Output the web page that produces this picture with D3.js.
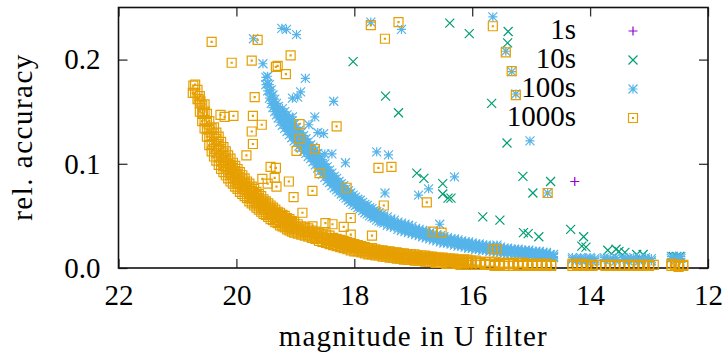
<!DOCTYPE html>
<html>
<head>
<meta charset="utf-8">
<script src="https://cdn.jsdelivr.net/npm/d3@7.9.0/dist/d3.min.js"></script>
<style>
  html, body { margin: 0; padding: 0; background: #fff; }
  svg { display: block; }
</style>
</head>
<body>
<svg width="725" height="354"></svg>
<script>
// series labels and colours (gnuplot default palette)
const seriesNames = ["1s", "10s", "100s", "1000s"];
const seriesColors = ["#9400d3", "#009e73", "#56b4e9", "#e69f00"];
const seriesSymbols = ["plus", "cross", "star", "box"];

const xTicks = [22, 20, 18, 16, 14, 12];
const yTicks = [0.0, 0.1, 0.2];

// [magnitude, rel. accuracy]
const pts1s = [[14.26, .083]];

const pts10s = [
  [16.38, .235], [16.05, .225], [18.02, .198], [17.47, .165], [17.25, .149],
  [15.67, .158], [15.39, .227], [15.40, .216], [15.41, .120], [16.94, .091],
  [16.82, .086], [16.50, .081], [16.50, .071], [16.41, .067], [16.36, .067],
  [15.14, .088], [14.97, .072], [14.67, .083], [15.82, .049], [15.53, .046],
  [15.13, .034], [15.05, .033], [14.87, .030], [14.33, .037], [14.11, .030],
  [14.14, .021], [14.07, .020], [13.70, .017], [13.56, .018], [13.51, .016],
  [13.41, .015], [13.21, .013], [13.10, .013], [12.59, .011], [12.53, .011],
  [12.48, .011]
];

// scattered 100s points
const pts100s = [
  [19.71, .220], [19.23, .230], [19.15, .229], [18.98, .224], [19.55, .196],
  [18.83, .182], [18.91, .169], [18.96, .164], [19.05, .163], [18.35, .160],
  [18.67, .145], [19.05, .145], [18.77, .1375], [17.72, .236], [17.20, .229],
  [18.62, .130], [18.52, .129], [18.50, .1095], [18.38, .1095], [18.15, .101],
  [17.62, .1115], [17.42, .1085], [17.48, .072], [16.91, .070], [16.74, .076],
  [16.30, .0875], [16.55, .042], [15.65, .241], [15.43, .208], [15.33, .1885],
  [15.26, .167], [15.02, .122], [14.72, .072], [15.58, .022], [18.93, .124]
];

// dense 100s band: [magnitude, accuracies...]
const band100s = [
  [19.50, .176, .183], [19.47, .170, .177, .184], [19.44, .163, .170, .176],
  [19.41, .158, .165, .171], [19.38, .154, .160, .166], [19.35, .150, .156, .162],
  [19.32, .147, .152, .158], [19.29, .144, .149, .155], [19.26, .140, .146, .151],
  [19.22, .137, .142, .148, .153], [19.18, .134, .139, .145, .150], [19.14, .131, .136, .142, .147],
  [19.10, .128, .133, .139, .144], [19.06, .125, .130, .136, .141], [19.02, .122, .127, .133, .138],
  [18.98, .120, .125, .130, .135], [18.94, .117, .122, .127, .132], [18.90, .115, .120, .125, .130],
  [18.86, .112, .117, .122, .127], [18.82, .110, .115, .120, .124], [18.78, .107, .112, .117, .121],
  [18.74, .105, .109, .114, .118], [18.70, .102, .107, .111, .116], [18.66, .099, .104, .108, .113],
  [18.62, .096, .101, .105, .110], [18.58, .093, .098, .102, .107], [18.54, .090, .095, .099, .104],
  [18.50, .087, .092, .096, .100], [18.46, .084, .089, .093, .097], [18.42, .082, .086, .090, .094],
  [18.38, .079, .083, .087, .091], [18.34, .077, .081, .085, .088], [18.30, .075, .078, .082, .086],
  [18.26, .073, .076, .080, .083], [18.22, .071, .074, .078, .081], [18.18, .069, .072, .075, .079],
  [18.14, .067, .070, .073, .076], [18.10, .065, .068, .071, .074], [18.06, .063, .066, .069, .072],
  [18.02, .061, .064, .067, .070], [17.98, .060, .063, .065, .068], [17.94, .058, .061, .064, .066],
  [17.90, .057, .059, .062, .065], [17.86, .055, .058, .060, .063], [17.82, .053, .056, .059, .061],
  [17.78, .052, .055, .057, .060], [17.74, .050, .053, .056, .058], [17.70, .049, .052, .054, .057],
  [17.66, .048, .050, .053, .055], [17.62, .046, .049, .051, .054], [17.58, .045, .048, .050, .053],
  [17.54, .044, .046, .049, .051], [17.50, .043, .045, .048, .050], [17.44, .041, .044, .046, .049],
  [17.38, .040, .042, .045, .047], [17.32, .039, .041, .043, .046], [17.26, .037, .040, .042, .044],
  [17.20, .036, .039, .041, .043], [17.14, .035, .037, .040, .042], [17.08, .034, .036, .038, .041],
  [17.02, .033, .035, .037, .040], [16.96, .032, .034, .036, .038], [16.90, .031, .033, .035, .037],
  [16.84, .030, .032, .034, .036], [16.78, .029, .031, .033, .035], [16.72, .028, .030, .032, .034],
  [16.66, .027, .029, .031, .033], [16.60, .026, .028, .030, .032], [16.54, .025, .027, .029, .031],
  [16.48, .024, .026, .028, .030], [16.42, .024, .026, .027, .029], [16.36, .023, .025, .027, .028],
  [16.30, .022, .024, .026, .028], [16.24, .021, .023, .025, .027], [16.18, .021, .023, .024, .026],
  [16.12, .020, .022, .024, .025], [16.06, .019, .021, .023, .025], [16.00, .019, .021, .022, .024],
  [15.94, .018, .020, .022, .023], [15.88, .018, .019, .021, .023], [15.82, .017, .019, .021, .022],
  [15.76, .017, .018, .020, .022], [15.70, .016, .018, .020, .021], [15.64, .016, .018, .019, .021],
  [15.58, .015, .017, .019, .020], [15.52, .015, .017, .018, .020], [15.46, .014, .016, .018, .019],
  [15.40, .014, .016, .017, .019], [15.34, .014, .015, .017, .018], [15.28, .013, .015, .017, .018],
  [15.22, .013, .015, .016, .018], [15.16, .013, .014, .016, .017], [15.10, .012, .014, .016, .017],
  [15.04, .012, .014, .015, .017], [14.98, .012, .013, .015, .016], [14.92, .011, .013, .015, .016],
  [14.86, .011, .013, .014, .016], [14.80, .011, .012, .014, .015], [14.74, .010, .012, .014, .015],
  [14.68, .010, .012, .013], [14.62, .010, .011, .013],
  [14.30, .008, .010], [14.24, .007, .009], [14.16, .008, .010], [14.08, .007, .009],
  [14.00, .008, .010], [13.92, .007, .009], [13.76, .008, .010], [13.66, .008, .009],
  [13.56, .007, .010], [13.44, .008, .010], [13.36, .007, .009], [13.26, .008, .010],
  [13.16, .007, .009], [13.06, .008, .010], [12.96, .007, .009], [12.62, .009, .011],
  [12.54, .008, .010], [12.46, .009, .011]
];

// scattered 1000s points
const pts1000s = [
  [20.42, .217], [19.64, .219], [20.08, .197], [19.74, .199], [19.08, .204],
  [19.33, .193], [19.30, .194], [19.16, .186], [17.72, .233], [17.25, .236],
  [17.48, .220], [15.65, .232], [15.43, .207], [15.33, .189], [15.26, .166],
  [20.73, .175], [20.74, .168], [20.64, .162], [20.61, .160], [19.69, .164],
  [20.57, .148], [20.27, .147], [20.20, .145], [20.05, .146], [19.72, .146],
  [19.57, .1375], [18.93, .138], [18.30, .136], [19.74, .131], [18.93, .124],
  [19.72, .119], [18.98, .1125], [18.67, .114], [19.83, .108], [19.42, .097],
  [19.33, .096], [18.59, .091], [19.56, .0855], [19.47, .081], [19.35, .0865],
  [19.32, .078], [19.11, .083], [18.71, .074], [19.03, .068], [18.13, .077],
  [17.59, .096], [17.37, .097], [17.50, .060], [18.88, .053], [18.06, .048],
  [18.71, .040], [18.49, .043], [18.37, .042], [18.18, .0395], [18.06, .032],
  [17.70, .031], [16.77, .063], [16.67, .035], [16.52, .034], [15.65, .018],
  [14.72, .072], [15.58, .018]
];

// dense 1000s band: [magnitude, accuracies...]
const band1000s = [
  [20.70, .176, .168], [20.66, .162, .171], [20.62, .150, .158, .165],
  [20.58, .141, .149, .156], [20.54, .134, .142, .150, .157], [20.50, .126, .133, .140, .148],
  [20.46, .118, .126, .133, .141], [20.42, .112, .119, .127, .134], [20.38, .107, .114, .121, .129, .135],
  [20.34, .103, .110, .117, .124, .130], [20.30, .099, .106, .113, .119, .126], [20.26, .095, .102, .108, .114, .121],
  [20.22, .092, .098, .104, .110, .116], [20.18, .089, .095, .101, .106, .112], [20.14, .086, .092, .097, .103, .108],
  [20.10, .083, .089, .094, .099, .105], [20.06, .081, .086, .091, .096, .101], [20.02, .078, .083, .088, .093, .098],
  [19.98, .076, .081, .086, .090, .095], [19.94, .073, .078, .083, .087, .092], [19.90, .071, .076, .080, .085, .089],
  [19.86, .069, .073, .078, .082, .086], [19.82, .067, .071, .075, .079, .083], [19.78, .064, .068, .072, .077, .081],
  [19.74, .062, .066, .070, .074, .078], [19.70, .060, .064, .068, .072, .076], [19.66, .058, .062, .066, .070, .073],
  [19.62, .056, .060, .064, .067, .071], [19.58, .054, .058, .062, .065, .069], [19.54, .052, .056, .060, .063, .066],
  [19.50, .051, .054, .058, .061, .064], [19.46, .049, .053, .056, .059, .062], [19.42, .047, .051, .054, .057, .060],
  [19.38, .046, .049, .052, .055, .058], [19.34, .044, .048, .051, .053, .056], [19.30, .043, .046, .049, .052, .054],
  [19.26, .041, .045, .048, .050, .053], [19.22, .040, .043, .046, .049, .051], [19.18, .039, .042, .045, .047, .050],
  [19.14, .037, .040, .043, .046, .048], [19.10, .036, .039, .042, .044, .047], [19.06, .035, .038, .041, .043, .045],
  [19.02, .034, .037, .040, .042, .044],
  [18.96, .033, .036, .039, .042], [18.90, .032, .035, .037, .040], [18.84, .031, .034, .036, .039],
  [18.78, .030, .032, .035, .038], [18.72, .029, .031, .034, .036], [18.66, .028, .030, .033, .035],
  [18.60, .026, .029, .031, .034], [18.54, .025, .028, .030, .033], [18.48, .024, .027, .029, .032],
  [18.42, .023, .026, .028, .031], [18.36, .022, .025, .027, .029], [18.30, .021, .024, .026, .028],
  [18.24, .020, .023, .025, .027], [18.18, .019, .022, .024, .026], [18.12, .018, .021, .023, .025],
  [18.06, .017, .020, .022, .024], [18.00, .016, .019, .021, .023], [17.94, .016, .018, .020, .022],
  [17.88, .015, .017, .019, .021], [17.82, .014, .016, .018, .020], [17.76, .013, .016, .018, .019],
  [17.70, .013, .015, .017, .019], [17.64, .012, .014, .016, .018], [17.58, .012, .014, .016, .017],
  [17.52, .011, .013, .015, .017], [17.46, .011, .013, .015, .016], [17.40, .010, .012, .014, .016],
  [17.34, .010, .012, .014, .015], [17.28, .009, .011, .013, .015], [17.22, .009, .011, .013, .014],
  [17.16, .008, .010, .012, .014], [17.10, .008, .010, .012, .013], [17.04, .008, .010, .011, .013],
  [16.98, .007, .009, .011, .013], [16.92, .007, .009, .011, .012], [16.86, .007, .009, .010, .012],
  [16.80, .006, .008, .010, .012], [16.74, .006, .008, .010, .011], [16.68, .006, .008, .009, .011],
  [16.62, .005, .007, .009, .010], [16.56, .005, .007, .009, .010], [16.50, .005, .007, .008, .010],
  [16.44, .004, .006, .008, .009], [16.38, .004, .006, .008, .009], [16.32, .004, .006, .007, .009],
  [16.26, .004, .005, .007, .008], [16.20, .003, .005, .007, .008], [16.14, .003, .005, .006, .008],
  [16.08, .003, .005, .006, .008], [16.02, .003, .005, .006, .007],
  [15.94, .003, .005, .007], [15.86, .003, .005, .006], [15.78, .003, .004, .006],
  [15.70, .003, .004, .006], [15.62, .002, .004, .006], [15.54, .003, .004, .005],
  [15.46, .002, .004, .005], [15.38, .002, .004, .005], [15.30, .002, .004, .005],
  [15.22, .002, .003, .005], [15.14, .002, .003, .005], [15.06, .002, .003, .004],
  [14.98, .002, .003, .004], [14.90, .002, .003, .004], [14.82, .002, .003, .004],
  [14.74, .002, .003, .004], [14.66, .002, .003],
  [14.30, .002, .004], [14.22, .002, .003], [14.14, .002, .004], [14.06, .002, .003],
  [13.96, .002, .003], [13.90, .003], [13.74, .002, .003], [13.66, .002, .003],
  [13.58, .002, .003], [13.42, .002, .003], [13.34, .002, .003], [13.26, .002, .003],
  [13.18, .002, .003], [13.10, .002, .003], [13.00, .002, .003], [12.92, .003],
  [12.62, .002, .004], [12.56, .002, .003], [12.50, .001, .003], [12.42, .002, .003]
];

const unpack = (rows) => rows.flatMap(([m, ...a]) => a.map((v) => [m, v]));

const seriesData = [
  pts1s,
  pts10s,
  unpack(band100s).concat(pts100s),
  unpack(band1000s).concat(pts1000s)
];

const svg = d3.select("svg");
const plotLeft = 118.5, plotRight = 708, plotTop = 7.5, plotBottom = 268;

const x = d3.scaleLinear().domain([22, 12]).range([plotLeft, plotRight]);
const y = d3.scaleLinear().domain([0, 0.25]).range([plotBottom, plotTop]);

// marker shapes
const s = 4.5;
function symbolPath(type) {
  const plus = `M${-s},0H${s}M0,${-s}V${s}`;
  const cross = `M${-s},${-s}L${s},${s}M${-s},${s}L${s},${-s}`;
  if (type === "plus") return plus;
  if (type === "cross") return cross;
  if (type === "star") return plus + cross;
  return `M${-s},${-s}H${s}V${s}H${-s}Z M-0.5,-0.5h1v1h-1Z`;
}

const fontFamily = "'Liberation Serif', 'Times New Roman', serif";
const fontSize = 29;

// axes with inward ticks on all four sides
svg.append("g")
  .attr("transform", `translate(0,${plotBottom})`)
  .call(d3.axisBottom(x).tickValues(xTicks).tickSize(-9).tickPadding(16).tickFormat(d3.format("d")));
svg.append("g")
  .attr("transform", `translate(0,${plotTop})`)
  .call(d3.axisTop(x).tickValues(xTicks).tickSize(-9).tickFormat(""));
svg.append("g")
  .attr("transform", `translate(${plotLeft},0)`)
  .call(d3.axisLeft(y).tickValues(yTicks).tickSize(-9).tickPadding(18).tickFormat(d3.format(".1f")));
svg.append("g")
  .attr("transform", `translate(${plotRight},0)`)
  .call(d3.axisRight(y).tickValues(yTicks).tickSize(-9).tickFormat(""));

svg.selectAll(".domain").remove();
svg.selectAll(".tick line").attr("stroke", "#333").attr("stroke-width", 1.3);
svg.selectAll(".tick text")
  .style("font-family", fontFamily)
  .style("font-size", fontSize + "px")
  .attr("fill", "#000");

// frame
svg.append("rect")
  .attr("x", plotLeft).attr("y", plotTop)
  .attr("width", plotRight - plotLeft).attr("height", plotBottom - plotTop)
  .attr("fill", "none").attr("stroke", "#111").attr("stroke-width", 1.6);

// points
seriesData.forEach((pts, i) => {
  svg.append("g")
    .selectAll("path")
    .data(pts)
    .join("path")
    .attr("transform", (d) => `translate(${x(d[0])},${y(d[1])})`)
    .attr("d", symbolPath(seriesSymbols[i]))
    .attr("fill", "none")
    .attr("stroke", seriesColors[i])
    .attr("stroke-width", 1.2);
});

// legend
const legend = svg.append("g");
seriesNames.forEach((name, i) => {
  const cy = 31 + i * 29;
  legend.append("text")
    .attr("x", 576).attr("y", cy + 7.5)
    .attr("text-anchor", "end")
    .style("font-family", fontFamily)
    .style("font-size", fontSize + "px")
    .text(name);
  legend.append("path")
    .attr("transform", `translate(633,${cy})`)
    .attr("d", symbolPath(seriesSymbols[i]))
    .attr("fill", "none")
    .attr("stroke", seriesColors[i])
    .attr("stroke-width", 1.2);
});

// axis titles
svg.append("text")
  .attr("x", (plotLeft + plotRight) / 2).attr("y", 346)
  .attr("text-anchor", "middle")
  .style("font-family", fontFamily)
  .style("font-size", fontSize + "px")
  .style("letter-spacing", "1.2px")
  .text("magnitude in U filter");
svg.append("text")
  .attr("transform", "translate(32,137) rotate(-90)")
  .attr("text-anchor", "middle")
  .style("font-family", fontFamily)
  .style("font-size", fontSize + "px")
  .style("letter-spacing", "1.5px")
  .text("rel. accuracy");
</script>
</body>
</html>
